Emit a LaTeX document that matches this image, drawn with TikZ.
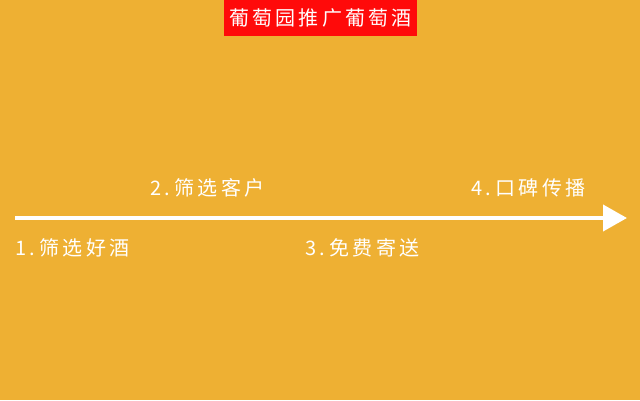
\documentclass[tikz,border=0pt]{standalone}
\usepackage{fontspec}
\newfontfamily\cjk[LetterSpace=18]{Noto Sans CJK SC}
\newfontfamily\cjktitle[LetterSpace=16]{Noto Sans CJK SC}
\usetikzlibrary{arrows.meta}
\definecolor{bgyellow}{HTML}{EEB033}
\definecolor{titlered}{HTML}{FF0A0A}
\begin{document}
\begin{tikzpicture}
	[x=1pt,y=-1pt,
	every node/.style={text=white,font=\cjk\fontsize{20}{22}\selectfont,inner sep=0pt},
	title/.style={fill=titlered,minimum width=193pt,minimum height=36pt,
		font=\cjktitle\fontsize{20}{22}\selectfont},
	steplabel/.style={anchor=west},
	flow/.style={white,line width=4pt,-{Triangle[length=24pt,width=26pt]}}
	]
	\fill[bgyellow] (0,0) rectangle (640,400);
	\useasboundingbox (0,0) rectangle (640,400);
	\node[title] (title) at (320.5,18) {葡萄园推广葡萄酒};
	\coordinate (start) at (15,218);
	\coordinate (end) at (627,218);
	\draw[flow] (start) -- (end);
	\node[steplabel] (s1) at (15,248) {1.筛选好酒};
	\node[steplabel] (s2) at (150,188) {2.筛选客户};
	\node[steplabel] (s3) at (305,248) {3.免费寄送};
	\node[steplabel] (s4) at (471,188) {4.口碑传播};
\end{tikzpicture}
\end{document}
